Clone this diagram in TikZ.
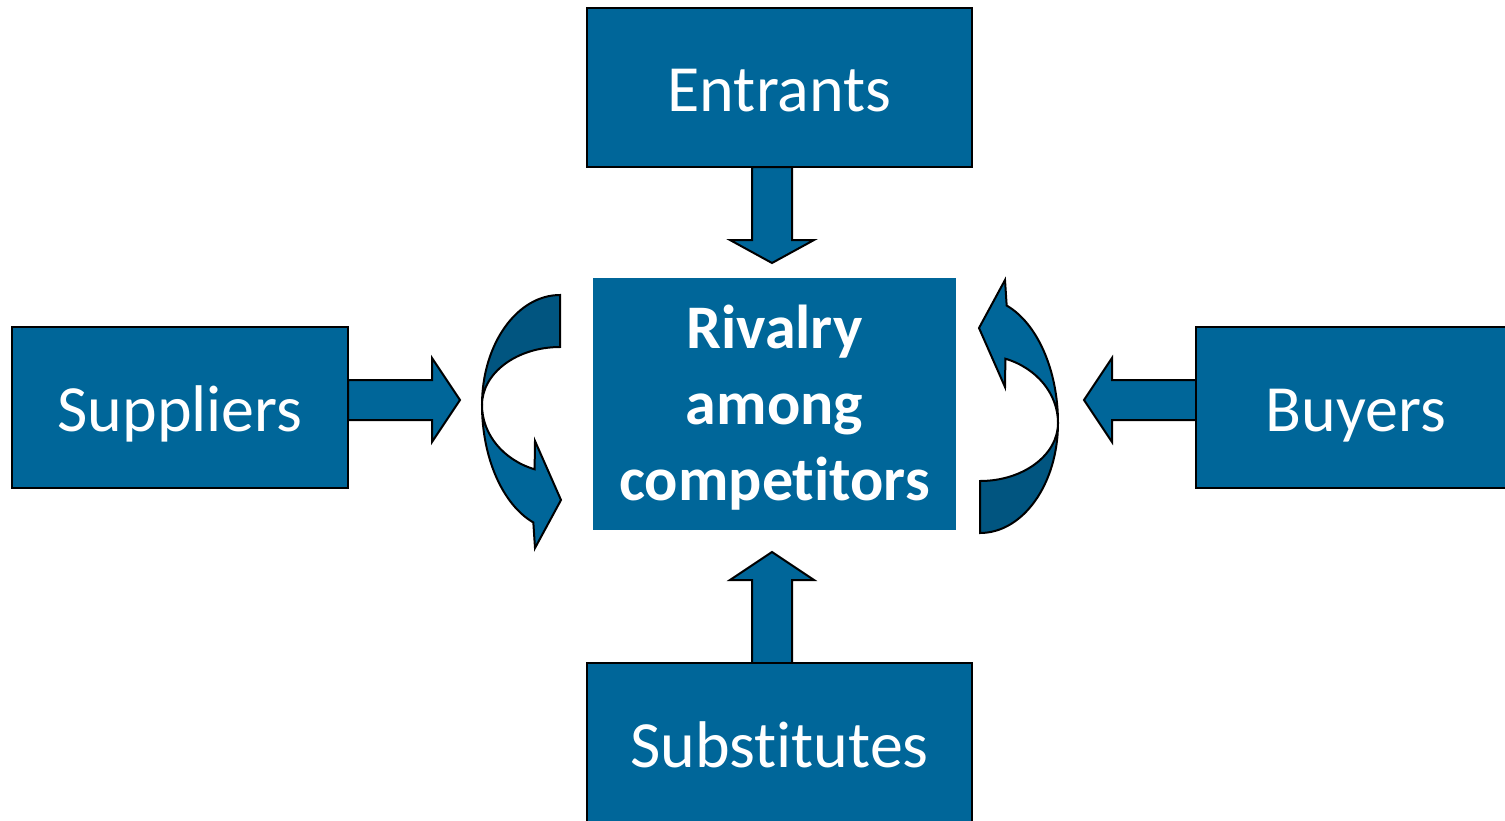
\documentclass[tikz,border=0pt]{standalone}
\usepackage{fontspec}
\setmainfont{Carlito}[Ligatures={NoCommon,NoRequired,NoContextual}, RawFeature={-liga;-clig;-dlig;-calt}]
\definecolor{boxblue}{RGB}{0,102,153}
\definecolor{darkblue}{RGB}{1,85,128}
\begin{document}
\begin{tikzpicture}[x=1pt,y=1pt,
  force/.style={draw=black, line width=2pt, fill=boxblue, text=white,
    font=\fontsize{66}{79}\selectfont, inner sep=0pt,
    text height=47pt, text depth=0pt},
  blockarrow/.style={draw=black, line width=2pt, fill=boxblue, line join=miter},
  backface/.style={draw=black, line width=2pt, fill=darkblue, line join=miter},
  curvedarrow/.pic={
    \draw[blockarrow] (482,-405) arc[start angle=180, end angle=250, x radius=78, y radius=125]
      -- (535,-548) -- (561,-500) -- (535,-441)
      -- (534.6,-469.3) arc[start angle=251, end angle=180, x radius=78, y radius=68] -- cycle;
    \draw[backface] (560,-295) arc[start angle=90, end angle=180, x radius=78, y radius=110]
      arc[start angle=180, end angle=90, x radius=78, y radius=58] -- cycle;
  }]
\useasboundingbox (0,0) rectangle (1505,-820);
\clip (0,0) rectangle (1505,-820);

% straight block arrows (drawn below the boxes)
\draw[blockarrow] (752,-167) -- (752,-240) -- (730,-240) -- (772,-263) -- (814,-240) -- (792,-240) -- (792,-167) -- cycle;
\draw[blockarrow] (752,-663) -- (752,-580) -- (730,-580) -- (772,-552) -- (814,-580) -- (792,-580) -- (792,-663) -- cycle;
\draw[blockarrow] (348,-380) -- (432,-380) -- (432,-358) -- (460,-400) -- (432,-442) -- (432,-420) -- (348,-420) -- cycle;
\draw[blockarrow] (1196,-380) -- (1112,-380) -- (1112,-358) -- (1084,-400) -- (1112,-442) -- (1112,-420) -- (1196,-420) -- cycle;

% boxes
\node[force, minimum width=385pt, minimum height=159pt] (entrants) at (779.5,-87.5) {Entrants};
\node[force, minimum width=336pt, minimum height=161pt] (suppliers) at (180,-407.5) {Suppliers};
\node[force, minimum width=320pt, minimum height=161pt] (buyers) at (1356,-407.5) {Buyers};
\node[force, minimum width=385pt, minimum height=161pt] (substitutes) at (779.5,-743.5) {Substitutes};
\node[fill=boxblue, inner sep=0pt, minimum width=363pt, minimum height=252pt] (rivalry) at (774.5,-404) {};
\node[text=white, inner sep=0pt, align=center, font=\bfseries\fontsize{62}{76}\selectfont]
  (rivalrytext) at ([yshift=-4pt]rivalry.center) {Rivalry\\among\\competitors};

% curved arrows
\pic (leftcurve) at (0,0) {curvedarrow};
\pic[rotate=180] (rightcurve) at (1540,-828) {curvedarrow};
\end{tikzpicture}
\end{document}
